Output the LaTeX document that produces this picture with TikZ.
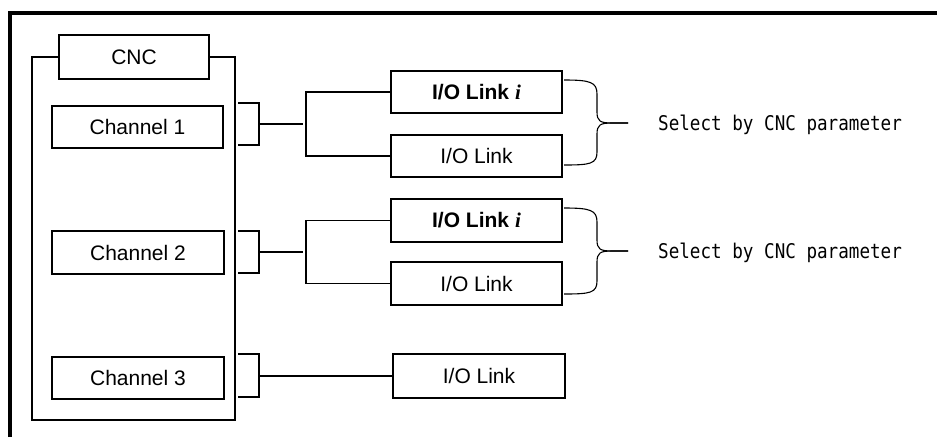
\documentclass[tikz,border=0pt]{standalone}
\usepackage{graphicx}
\usepackage{fontspec}
\setmainfont{Liberation Sans}
\newfontfamily\jpmono{DejaVu Sans Mono}
\newfontfamily\tserif{Liberation Serif}
\begin{document}
\begin{tikzpicture}[x=1pt,y=-1pt,
  box/.style={draw, line width=1.1pt, minimum width=171pt, minimum height=42pt, inner sep=0pt, fill=white, font=\fontsize{21}{25}\selectfont},
  wire/.style={line width=1.1pt},
  bracepath/.style={line width=1.1pt, line join=round},
  note/.style={anchor=west, inner sep=0pt, font=\jpmono\fontsize{17.6}{20}\selectfont}]
\useasboundingbox (0,0) rectangle (937,437);
% outer frame
\draw[line width=3.5pt] (10,437) -- (10,13) -- (937,13);
% CNC
\node[draw, line width=1.1pt, minimum width=203pt, minimum height=363pt, inner sep=0pt] (cnc) at (133.5,238.5) {};
\node[box, minimum width=150pt, minimum height=44pt] (cnclabel) at (134,57) {CNC};
\node[box] (ch1) at (137.5,127) {Channel 1};
\node[box, minimum width=172pt, minimum height=43pt] (ch2) at (138,252.5) {Channel 2};
\node[box, minimum width=172pt] (ch3) at (138,378) {Channel 3};
% I/O links
\node[box] (ioi1) at (476.5,92) {\textbf{I/O Link}\ {\tserif\bfseries\itshape i}};
\node[box] (io1) at (476.5,156) {I/O Link};
\node[box, minimum height=43pt] (ioi2) at (476.5,220.5) {\textbf{I/O Link}\ {\tserif\bfseries\itshape i}};
\node[box, minimum height=43pt] (io2) at (476.5,283.5) {I/O Link};
\node[box, minimum width=172pt, minimum height=44pt] (io3) at (479,376) {I/O Link};
% brackets
\coordinate (b1t) at (238,103); \coordinate (b1b) at (238,145);
\coordinate (b1m) at (259,124); \coordinate (f1e) at (303,124); \coordinate (f1) at (306,124);
\coordinate (b2t) at (238,231); \coordinate (b2b) at (238,273);
\coordinate (b2m) at (259,252); \coordinate (f2e) at (303,252); \coordinate (f2) at (306,252);
\coordinate (b3t) at (238,354); \coordinate (b3b) at (238,397);
\coordinate (b3m) at (259,376);
\draw[wire] (b1t) -- ++(21,0) |- (b1b);
\draw[wire] (b1m) -- (f1e);
\draw[wire] (ioi1.west) -| (f1) |- (io1.west);
\draw[wire] (b2t) -- ++(21,0) |- (b2b);
\draw[wire] (b2m) -- (f2e);
\draw[wire] (ioi2.west) -| (f2) |- (io2.west);
\draw[wire] (b3t) -- ++(21,0) |- (b3b);
\draw[wire] (b3m) -- (io3.west);
% braces
\draw[bracepath] (564,80) .. controls (590,80) and (597,82) .. (597,94) -- (597,112)
  .. controls (597,121) and (600,123) .. (612,123) -- (628,123);
\draw[bracepath] (628,123) -- (612,123) .. controls (600,123) and (597,125) .. (597,134)
  -- (597,152) .. controls (597,164) and (590,165) .. (564,165);
\draw[bracepath] (564,208) .. controls (590,208) and (597,210) .. (597,222) -- (597,240)
  .. controls (597,249) and (600,251) .. (612,251) -- (628,251);
\draw[bracepath] (628,251) -- (612,251) .. controls (600,251) and (597,253) .. (597,262)
  -- (597,281) .. controls (597,293) and (590,294) .. (564,294);
% notes
\node[note] (n1) at (658,125) {\scalebox{1}[1.15]{Select by CNC parameter}};
\node[note] (n2) at (658,253) {\scalebox{1}[1.15]{Select by CNC parameter}};
\end{tikzpicture}
\end{document}
